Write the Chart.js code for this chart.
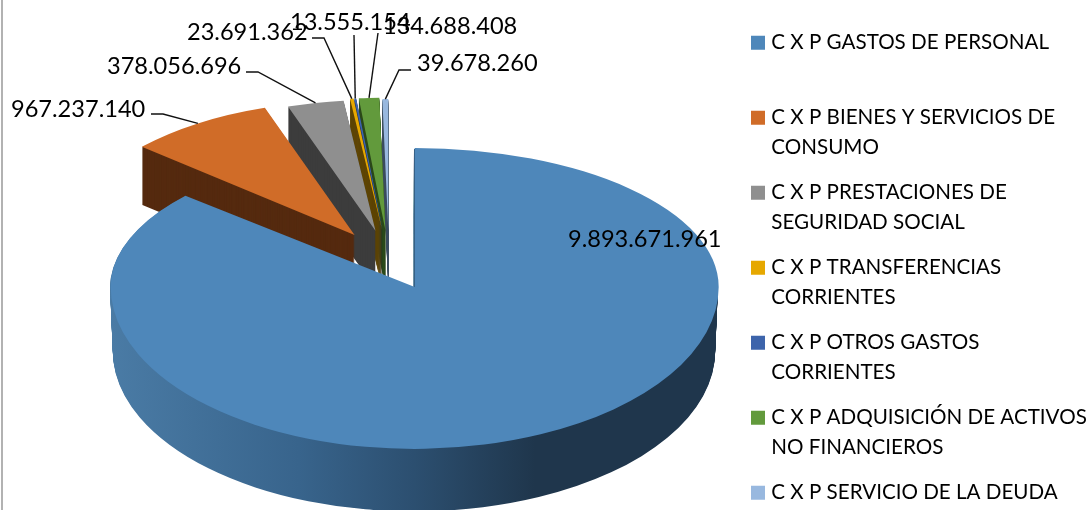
<!DOCTYPE html>
<html><head><meta charset="utf-8">
<style>html,body{margin:0;padding:0;background:#fff;overflow:hidden}canvas{display:block}</style>
<script src="https://cdn.jsdelivr.net/npm/chart.js@4"></script>
</head><body>
<canvas id="c" width="1091" height="510"></canvas>
<script>
const categories = [
  ['C X P GASTOS DE PERSONAL'],
  ['C X P BIENES Y SERVICIOS DE','CONSUMO'],
  ['C X P PRESTACIONES DE','SEGURIDAD SOCIAL'],
  ['C X P TRANSFERENCIAS','CORRIENTES'],
  ['C X P OTROS GASTOS','CORRIENTES'],
  ['C X P ADQUISICIÓN DE ACTIVOS','NO FINANCIEROS'],
  ['C X P SERVICIO DE LA DEUDA']
];
const values = [9893671961, 967237140, 378056696, 23691362, 13555154, 134688408, 39678260];
const topColors = ['#4e87ba','#d06c28','#8f8f8f','#e6a800','#3d64ab','#629a3c','#98b8df'];
const wallColors = [null,'#552a0f','#3c3c3c','#5e4505','#1e3560','#2c4a1a','#3f4f60'];

// label placement: left x, centre y, leader points before reaching the slice
const labelLayout = [
  {x:568,y:239,leader:null},
  {x:11,y:109,leader:[[151,114],[163,114]]},
  {x:107,y:66,leader:[[246,72],[258,72]]},
  {x:187,y:32,leader:[[312,38],[324,38]]},
  {x:290,y:22,leader:[[354,35]]},
  {x:383,y:26,leader:[[378,33]]},
  {x:417,y:63,leader:[[411,70],[399,70]]}
];
const pie3d = {cx:389, cy:259.8, explode:62, explodeK:0.48, radius:304,
  scale:[1,0.928,0.905,0.915,0.915,0.915,0.905],
  kBack:0.476, kMainUp:0.457, kMainDown:0.533, depthMain:64, depthBack:58,
  drawOrder:[6,5,4,3,2,1,0]};

function fmt(v){return String(v).replace(/\B(?=(\d{3})+$)/g,'.');}
function apex(arc){
  const mid=(arc.startAngle+arc.endAngle)/2;
  return {x:pie3d.cx+Math.cos(mid)*pie3d.explode,
          y:pie3d.cy+Math.sin(mid)*pie3d.explode*pie3d.explodeK, mid};
}
function drawArc(ctx,arc,fill){
  const saved=arc.options;
  arc.options=Object.assign({},saved,{backgroundColor:fill,borderWidth:0,offset:0});
  arc.draw(ctx);
  arc.options=saved;
}
function place(ctx,arc,a,s,k,dy,dx){
  ctx.translate(a.x+dx,a.y+dy);
  ctx.scale(s,s*k);
  ctx.translate(-arc.x,-arc.y);
}
function layer(chart,ctx,arc,i,dy,s,fill,dx){
  const a=apex(arc);
  if(i===0){
    const ay=Math.round(a.y+dy);
    [[0,ay,pie3d.kMainUp],[ay,chart.height-ay+100,pie3d.kMainDown]].forEach(b=>{
      ctx.save();
      ctx.beginPath();ctx.rect(0,b[0],chart.width,b[1]);ctx.clip();
      place(ctx,arc,a,s,b[2],dy,dx);
      drawArc(ctx,arc,typeof fill==='function'?fill(ctx,arc):fill);
      ctx.restore();
    });
  }else{
    ctx.save();
    place(ctx,arc,a,s,pie3d.kBack,dy,dx);
    drawArc(ctx,arc,fill);
    ctx.restore();
  }
}
function mainWall(ctx,arc){
  const r=arc.outerRadius;
  const g=ctx.createLinearGradient(arc.x-r,0,arc.x+r,0);
  g.addColorStop(0,'#4a7ba5');
  g.addColorStop(0.31,'#38648c');
  g.addColorStop(0.5,'#2c4f70');
  g.addColorStop(0.7,'#1f364c');
  g.addColorStop(1,'#1f364c');
  return g;
}
const pie3dPlugin={
  id:'pie3d',
  afterLayout(chart){
    const l=chart.legend;
    l.left=740;l.top=17.5;l.bottom=640;l.right=1091;
  },
  beforeDraw(chart){
    const ctx=chart.ctx;
    ctx.save();ctx.fillStyle='#b2b2b2';ctx.fillRect(1,0,2,chart.height);ctx.restore();
  },
  beforeDatasetDraw(){return false;},
  afterDatasetsDraw(chart){
    const ctx=chart.ctx, arcs=chart.getDatasetMeta(0).data;
    pie3d.drawOrder.forEach(i=>{
      const arc=arcs[i], s=pie3d.scale[i];
      const depth=i===0?pie3d.depthMain:pie3d.depthBack;
      for(let t=depth;t>=1;t--){
        const shrink=i===0?1-0.009*t/depth:1;
        layer(chart,ctx,arc,i,t,s*shrink,i===0?mainWall:wallColors[i],i===0?-0.7:0);
      }
      layer(chart,ctx,arc,i,0,s,topColors[i],0);
    });
    ctx.save();
    ctx.strokeStyle='#111';ctx.lineWidth=1.4;
    labelLayout.forEach((lab,i)=>{
      if(!lab.leader)return;
      const a=apex(arcs[i]), r=pie3d.radius*pie3d.scale[i];
      ctx.beginPath();
      lab.leader.forEach((p,j)=>j?ctx.lineTo(p[0],p[1]):ctx.moveTo(p[0],p[1]));
      ctx.lineTo(a.x+Math.cos(a.mid)*r, a.y+Math.sin(a.mid)*r*pie3d.kBack);
      ctx.stroke();
    });
    ctx.font='23.6px Lato';ctx.fillStyle='#000';ctx.textBaseline='middle';ctx.textAlign='left';
    labelLayout.forEach((lab,i)=>ctx.fillText(fmt(values[i]),lab.x,lab.y));
    ctx.restore();
  }
};
new Chart(document.getElementById('c'),{
  type:'pie',
  data:{labels:categories,datasets:[{data:values,backgroundColor:topColors,borderWidth:0}]},
  plugins:[pie3dPlugin],
  options:{
    responsive:false,animation:false,radius:pie3d.radius,
    plugins:{
      tooltip:{enabled:false},
      legend:{
        position:'right',align:'start',
        labels:{
          boxWidth:6,boxHeight:6,padding:15,color:'#000',
          font:{family:'Lato',size:20.6,lineHeight:'30px'},
          generateLabels(chart){
            return Chart.overrides.pie.plugins.legend.labels.generateLabels(chart).map((it,i)=>{
              const lines=categories[i].slice();
              if(lines.length<2&&i<categories.length-1)lines.push('');
              return Object.assign(it,{text:lines,strokeStyle:topColors[i],lineWidth:8});
            });
          }
        }
      }
    }
  }
});
</script>
</body></html>
